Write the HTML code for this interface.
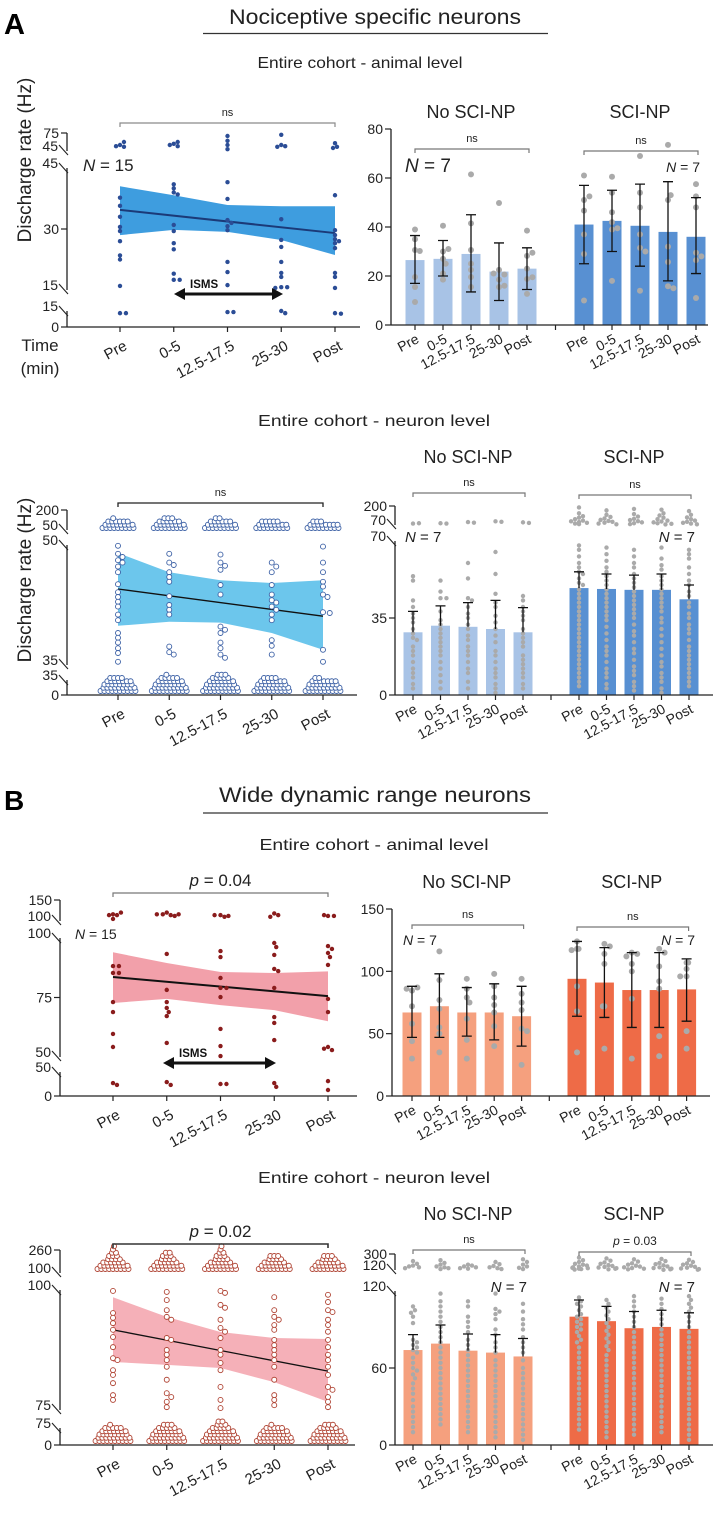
<!DOCTYPE html>
<html><head><meta charset="utf-8"><style>
html,body{margin:0;padding:0;background:#fff;}
svg{display:block;font-family:"Liberation Sans",sans-serif;}
</style></head><body>
<svg id="fig" width="720" height="1513" viewBox="0 0 720 1513" xmlns="http://www.w3.org/2000/svg">
<text x="4" y="34" font-size="29" font-weight="bold">A</text>
<text x="375" y="24" font-size="21" text-anchor="middle" textLength="292" lengthAdjust="spacingAndGlyphs" fill="#222">Nociceptive specific neurons</text>
<line x1="203" y1="33.5" x2="548" y2="33.5" stroke="#333" stroke-width="1.2"/>
<text x="360" y="68" font-size="16" text-anchor="middle" textLength="205" lengthAdjust="spacingAndGlyphs" fill="#222">Entire cohort - animal level</text>
<text x="374" y="426" font-size="16" text-anchor="middle" textLength="232" lengthAdjust="spacingAndGlyphs" fill="#222">Entire cohort - neuron level</text>
<text x="4" y="810" font-size="28" font-weight="bold">B</text>
<text x="375" y="802" font-size="21" text-anchor="middle" textLength="312" lengthAdjust="spacingAndGlyphs" fill="#222">Wide dynamic range neurons</text>
<line x1="203" y1="813" x2="548" y2="813" stroke="#333" stroke-width="1.2"/>
<text x="374" y="850" font-size="16" text-anchor="middle" textLength="229" lengthAdjust="spacingAndGlyphs" fill="#222">Entire cohort - animal level</text>
<text x="374" y="1183" font-size="16" text-anchor="middle" textLength="232" lengthAdjust="spacingAndGlyphs" fill="#222">Entire cohort - neuron level</text>
<text transform="translate(31,160) rotate(-90)" font-size="19" text-anchor="middle" fill="#222">Discharge rate (Hz)</text>
<text transform="translate(31,580) rotate(-90)" font-size="19" text-anchor="middle" fill="#222">Discharge rate (Hz)</text>
<text x="40" y="351" font-size="17" text-anchor="middle" fill="#222">Time</text>
<text x="40" y="374" font-size="17" text-anchor="middle" fill="#222">(min)</text>
<text x="83" y="171" font-size="17" fill="#222"><tspan font-style="italic">N</tspan> = 15</text>
<text x="75" y="939" font-size="14" fill="#222"><tspan font-style="italic">N</tspan> = 15</text>
</svg>
<script>
const svg=document.getElementById('fig');
const NS='http://www.w3.org/2000/svg';
function el(tag,attrs,text){const e=document.createElementNS(NS,tag);for(const k in attrs)e.setAttribute(k,attrs[k]);if(text!=null)e.textContent=text;svg.appendChild(e);return e;}

/* ---------- DATA ---------- */
const cats=['Pre','0-5','12.5-17.5','25-30','Post'];

// A animal-level scatter (per category)
const a1Dots=[
 [55,60,52,53,37.7,35.7,33,29.5,30.5,27,23.5,22.5,16,13,13],
 [57,60,53,55,41,40,39,38.5,31,29.5,26.5,25,19,17.5,17.5],
 [70,62,55,48,41.5,37.4,32.2,31.5,30.7,29.7,21.9,19.4,16.2,14,14],
 [72,55,53,52,32.4,27.3,25.6,21.9,19.2,18.2,15.7,15.7,15.5,15,13],
 [58,52,50,38.3,29.7,28.5,27.5,27,26.5,25.3,19.2,18.2,15.5,13,12.5]];
const a1Line=[34.7,29];
const a1BandHi=[40.5,38.3,35.9,35.6,35.6];
const a1BandLo=[28.5,29.8,29.3,27.3,23.6];

// A animal-level bars
const a2NoMean=[26.5,27,29,21.8,23];
const a2NoLo=[17,20,13.5,10,14.5];
const a2NoHi=[36.5,34.5,45,33.5,31.5];
const a2SciMean=[41,42.5,40.5,38,36];
const a2SciLo=[25,30,24,18,21];
const a2SciHi=[57,55,57.5,58.5,52];
const a2NoDots=[[39,35,30.6,30.2,19.6,15.5,9.4],[40.5,30,31,27,21,18.5,25],[61.5,41.5,30.6,22.5,19.6,15.5,25],[49.8,22.5,20.6,18.5,15.5,16,21],[38.5,28.2,29.5,18.8,19.5,12.7,23]];
const a2SciDots=[[61,51,52.5,46.7,37,29,10],[60.5,54,46,39,39.5,18,42],[69,54,48,37,31.5,30,14],[73.5,51,53,32,25.7,15.8,15],[57.5,52.5,29.5,26.5,11,48,28]];

// A neuron-level scatter
const a3Mid=[
 [49.9,48.9,48.5,48.1,47.8,47.3,46.6,45.1,44.1,43.5,42.9,42.3,41.3,40.6,39,38.4,37.8,37.1,36.5,35.4],
 [48.9,47.8,47.5,46.6,46,45.4,43.6,42.5,41.9,41.3,37.3,36.6,36.3],
 [48.8,47.8,47.4,46.9,45,43.8,39.8,39.4,39,37.8,37.1,36.3,35.9],
 [47.8,47.3,46.6,45,43.8,43.1,42.8,42.3,41.9,41.3,40.6,38.1,37.4,36.3],
 [49.8,47.8,46.6,45.4,44.8,43.8,43.5,41.6,41.5,36.9,35.4]];
const a3TopCount=[24,26,25,22,20];
const a3BottomCount=[38,40,42,38,36];
const a3Line=[44.5,41.1];
const a3BandHi=[49,46.6,45.6,45.25,45.6];
const a3BandLo=[39.9,40.4,40.3,39,36.9];

// A neuron-level bars
const a4NoMean=[28.5,31.5,31,30,28.5];
const a4NoHi=[38,40.5,42,43,39.7];
const a4SciMean=[48.6,48.2,47.8,47.8,43.5];
const a4SciHi=[56,55,54.5,55,50];
const a4NoDots=[
 [80,82,52,54,43,40,37,35,30,28,26,22,20,18,15,12,10,8,5,3,25,33],
 [82,80,52,47,44,44,38,34,32,30,28,26,24,22,20,18,15,12,9,6,3],
 [90,86,60,53,44,43,40,37,35,32,30,27,25,22,20,18,15,12,10,6,3],
 [95,92,65,55,46,42,40,36,33,30,27,24,20,18,15,12,10,8,5,3,1],
 [88,84,45,43,40,38,36,34,30,28,26,24,22,18,16,14,12,10,8,5,3]];
const a4SciDots=[
 [190,150,130,120,110,100,95,90,85,80,76,68,66,63,60,58,56,55,53,51,50,48,46,44,42,40,38,36,34,32,30,28,26,24,22,20,18,16,14,12,10,8,6,4],
 [170,140,125,115,105,98,92,86,80,75,67,64,61,58,56,54,52,50,48,46,44,42,40,38,36,34,31,28,25,22,20,18,15,12,10,8,5,3],
 [180,145,128,112,104,96,88,82,76,66,63,60,58,55,53,51,49,47,45,43,41,39,37,35,32,29,27,24,21,19,16,13,11,9,6,4,2],
 [175,150,135,120,110,100,94,88,82,78,74,67,62,59,57,54,52,50,48,46,44,42,40,38,35,33,30,27,24,21,18,15,13,10,8,6,3,1],
 [165,140,122,110,100,92,85,80,75,66,64,62,58,55,52,50,47,45,42,40,37,35,32,30,28,25,22,20,18,16,14,12,10,8,6,4]];

// B animal-level scatter
const b1Dots=[
 [116,114,114,105,120,88.2,88.2,85.3,85.3,73.1,68.9,59.7,54.2,27,23],
 [120,114,116,112,116,116,93.3,78.2,73.1,70.6,68.9,67.2,55.9,29,23],
 [114,110,114,112,94.5,92,83.2,79,79,75.2,61.8,54.6,50.4,25,25],
 [118,114,110,97.9,96.2,92.9,87,86.1,79,66.8,64.3,57.1,27,19],
 [112,112,114,96.6,95.4,93.7,92,88.7,74.4,68.9,54.2,52.9,53.5,31,12.5]];
const b1Line=[83.6,75.6];
const b1BandHi=[94,89.5,85.7,85.3,86];
const b1BandLo=[72.7,74.4,71.8,69.7,65];

// B animal-level bars
const b2NoMean=[67,72,67,67,64];
const b2NoLo=[47,47,48,45,40];
const b2NoHi=[88,98,87,90,88];
const b2SciMean=[94,91,85,85,85.5];
const b2SciLo=[64,63,55,55,60];
const b2SciHi=[124,119,115,115,110];
const b2NoDots=[[84.5,87,86,72,58,44,30],[116,93,77,70,55,35,50],[94,86,79,75,62,30,45],[98,88,79,73,67,56,40],[94,82,75,69,54,52,25]];
const b2SciDots=[[118,118,117,88,68,35,124],[122,114,106,72,38,120,72],[115,114,106,100,78,30,112],[118,115,104,92,86,48,32],[107,107,102,96,96,52,38]];

// B neuron-level scatter
const b3Mid=[
 [99.8,95.2,94.2,93.1,91.7,90.2,88.1,85.8,85.4,83.3,82.3,80.6,78.1,77.1],
 [99.6,97.9,95.8,94.4,93.8,90,89.6,87.5,86.5,85.4,84,81.3,78.5,77.7,76.7,75.6],
 [99.8,99.4,96.9,96.3,93.8,92.1,91.3,90,87.5,86.5,84.8,83.3,79.8,77.1,75.4],
 [98.5,95.8,94.4,93.8,92.7,91.7,89.6,88.5,87.5,86.5,85.4,84,81.3,78.1,77.1,76],
 [99,97.5,95.8,95.4,93.8,92.7,91.3,89.6,88.1,86.5,85.4,84,82.3,79.8,79.2,77.7,76.7,75.6]];
const b3TopCount=[34,32,34,30,30];
const b3BottomCount=[40,42,44,40,42];
const b3Line=[91.7,83.1];
const b3BandHi=[98.5,94.4,91.25,90,89.8];
const b3BandLo=[85,84.4,83.75,80.8,76.7];

// B neuron-level bars
const b4NoMean=[74,79,73.5,72,69];
const b4NoHi=[86,93.5,86.5,86,83];
const b4SciMean=[100,96.5,91,92,90.5];
const b4SciHi=[113,108,104,105,103];
const b4NoDots=[
 [220,190,170,160,150,140,108,105,103,100,95,82,80,78,76,74,72,68,64,60,58,55,52,48,44,40,35,30,26,22,18,14,10],
 [230,200,180,160,150,140,130,118,112,108,104,100,96,92,88,84,80,76,72,68,64,60,56,52,48,44,40,36,32,28,24,20,16],
 [180,170,160,150,140,135,112,108,100,96,92,88,82,78,74,70,66,62,58,54,50,46,42,38,34,30,26,22,18,14,10],
 [210,185,165,150,140,130,118,106,104,102,98,90,86,80,76,72,66,62,58,54,50,46,42,38,34,30,26,22,18,14,10,6],
 [240,210,180,160,145,130,110,104,98,94,90,84,80,76,72,66,60,56,52,48,44,40,36,32,28,24,20,16,12,8,4]];
const b4SciDots=[
 [260,230,210,190,180,170,160,150,145,140,135,130,125,115,112,110,108,105,102,100,98,96,94,92,90,88,85,82,80,76,72,68,64,60,56,52,48,44,40,36,32,28,24,20,16,12],
 [250,225,205,190,175,165,155,148,140,134,128,113,110,107,104,101,98,95,92,89,86,83,80,77,74,70,66,62,58,54,50,46,42,38,34,30,26,22,18,14,10,6],
 [240,215,195,180,168,158,150,142,135,128,116,112,108,104,100,96,92,88,84,80,76,72,68,64,60,56,52,48,44,40,36,32,28,24,20,16,12,8],
 [245,220,200,185,172,160,150,142,135,128,122,114,110,106,102,98,94,90,86,82,78,74,70,66,62,58,54,50,46,42,38,34,30,26,22,18,14,10],
 [235,210,195,180,168,156,146,138,130,124,116,113,110,107,104,100,96,92,88,84,80,76,72,68,64,60,56,52,48,44,40,36,32,28,24,20,16,12,8,4]];

/* ---------- HELPERS ---------- */
function makeScale(segs){
  return function(v,si){
    if(si!=null){const s=segs[si];return s[2]+(v-s[0])/(s[1]-s[0])*(s[3]-s[2]);}
    for(const s of segs){if(v>=s[0]&&v<=s[1])return s[2]+(v-s[0])/(s[1]-s[0])*(s[3]-s[2]);}
    const last=segs[segs.length-1];
    if(v>last[1])return last[3];
    return segs[0][2];
  };
}
function swarmOffsets(ys,r,maxOff){
  const placed=[];const offs=[];
  ys.forEach((y,i)=>{
    let chosen=null;
    for(let k=0;k<30&&chosen===null;k++){
      for(const sg of (k===0?[1]:[1,-1])){
        const off=sg*k*r*0.9;
        if(Math.abs(off)>maxOff)continue;
        let ok=true;
        for(const p of placed){const dx=p[0]-off,dy=p[1]-y;if(dx*dx+dy*dy<(2*r*0.92)*(2*r*0.92)){ok=false;break;}}
        if(ok){chosen=off;break;}
      }
    }
    if(chosen===null)chosen=((i%2)?1:-1)*maxOff*((i%5)/5);
    placed.push([chosen,y]);offs.push(chosen);
  });
  return offs;
}
function drawYAxis(p,prefix){
  const sc=p.scale;
  p.segs.forEach((s,i)=>{
    const ln=el('line',{x1:p.ax,y1:s[2],x2:p.ax,y2:s[3],stroke:'#222','stroke-width':1.3});
    
    
    if(i>0){
      const b1=el('line',{x1:p.ax-8,y1:s[2]-6,x2:p.ax+1,y2:s[2]+4,stroke:'#222','stroke-width':1.1});
      
      
    }
    if(i<p.segs.length-1){
      const b2=el('line',{x1:p.ax-8,y1:s[3]-5,x2:p.ax+1,y2:s[3]+5,stroke:'#222','stroke-width':1.1});
      
      
    }
  });
  p.ticks.forEach(t=>{
    const y=sc(t[0],t[1]);
    const isBreak=(t[1]>0&&t[0]===p.segs[t[1]][0])||(t[1]<p.segs.length-1&&t[0]===p.segs[t[1]][1]);
    if(!isBreak){
      const tk=el('line',{x1:p.ax-6,y1:y,x2:p.ax,y2:y,stroke:'#222','stroke-width':1.2});
      
      
    }
    const lb=el('text',{x:p.ax-(isBreak?9:8),y:y+(isBreak?0:5),'font-size':p.tickFont||14,'text-anchor':'end',fill:'#222'},String(t[0]));
    
    
  });
}
function drawXLabels(xs,axisY,fs,dx,dy,prefix){
  xs.forEach((x,i)=>{
    const tk=el('line',{x1:x,y1:axisY,x2:x,y2:axisY+5,stroke:'#222','stroke-width':1.2});
    
    
    const lb=el('text',{transform:`translate(${x+dx},${axisY+dy}) rotate(-28)`,'font-size':fs,'text-anchor':'end',fill:'#222'},cats[i]);
    
    
  });
}
function bracket(x1,x2,y,color,w,label,labelSize,italicP,prefix){
  const g=el('path',{d:`M${x1},${y+4}V${y}H${x2}V${y+4}`,fill:'none',stroke:color,'stroke-width':w});
  
  
  const t=el('text',{x:(x1+x2)/2,y:y-7,'font-size':labelSize,'text-anchor':'middle',fill:'#222'});
  
  
  if(italicP){const ts=document.createElementNS(NS,'tspan');ts.setAttribute('font-style','italic');ts.textContent='p';t.appendChild(ts);t.appendChild(document.createTextNode(' = '+label));}
  else t.textContent=label;
}
function isms(x1,x2,y,prefix){
  const l=el('line',{x1:x1+8,y1:y,x2:x2-8,y2:y,stroke:'#111','stroke-width':3});
  
  
  const h1=el('polygon',{points:`${x1},${y} ${x1+11},${y-6} ${x1+11},${y+6}`,fill:'#111'});
  
  
  const h2=el('polygon',{points:`${x2},${y} ${x2-11},${y-6} ${x2-11},${y+6}`,fill:'#111'});
  
  
  const t=el('text',{x:x1+16,y:y-6,'font-size':11.5,'font-weight':'bold',fill:'#111'},'ISMS');
  
  
}

/* ---------- LEFT (regression) PANELS ---------- */
function leftPanel(p){
  const sc=makeScale(p.segs);p.scale=sc;
  const xs=cats.map((c,i)=>p.x0+i*p.step);
  let d='M'+xs.map((x,i)=>x+','+sc(p.hi[i],1)).join(' L');
  for(let i=4;i>=0;i--)d+=' L'+xs[i]+','+sc(p.lo[i],1);
  const band=el('path',{d:d+'Z',fill:p.bandColor,stroke:'none'});
  
  
  const rl=el('line',{x1:xs[0],y1:sc(p.line[0],1),x2:xs[4],y2:sc(p.line[1],1),stroke:p.lineColor,'stroke-width':p.lineW});
  
  
  if(p.dots){
    p.dots.forEach((arr,ci)=>{
      const ys=arr.map(v=>sc(v));
      const offs=swarmOffsets(ys,p.r,14);
      ys.forEach((y,j)=>{
        const c=el('circle',{cx:xs[ci]+offs[j],cy:y,r:p.r,fill:p.dotFill,stroke:p.dotStroke,'stroke-width':p.dotSW});
        
        
      });
    });
  }
  if(p.mid){
    p.mid.forEach((arr,ci)=>{
      const ys=arr.map(v=>sc(v,1));
      const offs=swarmOffsets(ys,p.r,8);
      ys.forEach((y,j)=>{
        const c=el('circle',{cx:xs[ci]+offs[j],cy:y,r:p.r,fill:p.dotFill,stroke:p.dotStroke,'stroke-width':p.dotSW});
        
        
      });
    });
    const pile=(count,cx,baseY,caps,name)=>{
      let row=0,idx=0;
      for(let n=0;n<count;n++){
        const cap=caps[Math.min(row,caps.length-1)];
        const x=cx+(idx-(cap-1)/2)*p.r*1.55+((row%2)?p.r*0.4:0);
        const y=baseY-row*p.r*1.3;
        const c=el('circle',{cx:x,cy:y,r:p.r,fill:p.dotFill,stroke:p.dotStroke,'stroke-width':p.dotSW});
        
        
        idx++;if(idx>=cap){idx=0;row++;}
      }
    };
    xs.forEach((x,ci)=>{
      pile(p.topCount[ci],x,p.topBase,[9,8,6,4,3,2,1,1],p.prefix+'-high-rate-neuron');
      pile(p.botCount[ci],x,p.botBase,[10,9,8,7,5,3,2,1],p.prefix+'-low-rate-neuron');
    });
  }
  drawYAxis(p,p.prefix);
  const xa=el('line',{x1:p.ax,y1:p.axisY,x2:p.xEnd,y2:p.axisY,stroke:'#222','stroke-width':1.3});
  
  
  drawXLabels(xs,p.axisY,15,8,22,p.prefix);
  bracket(xs[0],xs[4],p.brY,p.brColor,p.brW,p.brLabel,p.brSize,p.brItalic,p.prefix);
}

leftPanel({prefix:'a-animal',ax:67,axisY:327,xEnd:360,x0:120,step:53.75,
  segs:[[0,15,327,311],[15,45,290,168],[45,75,151,133]],
  ticks:[[0,0],[15,0],[15,1],[30,1],[45,1],[45,2],[75,2]],
  hi:a1BandHi,lo:a1BandLo,line:a1Line,dots:a1Dots,r:2.2,dotFill:'#2b4d96',dotStroke:'none',dotSW:0,
  bandColor:'#3e9ddf',lineColor:'#1b3a78',lineW:2,brY:123,brColor:'#8a8a8a',brW:1.2,brLabel:'ns',brSize:11});
isms(174,283,294,'a-animal');

leftPanel({prefix:'a-neuron',ax:67,axisY:695,xEnd:357,x0:118,step:51.25,
  segs:[[0,35,695,680],[35,50,665,545],[50,200,530,510]],
  ticks:[[0,0],[35,0],[35,1],[50,1],[50,2],[200,2]],
  hi:a3BandHi,lo:a3BandLo,line:a3Line,mid:a3Mid,topCount:a3TopCount,botCount:a3BottomCount,topBase:528,botBase:691,
  r:2.5,dotFill:'#fff',dotStroke:'#3e62a6',dotSW:0.9,
  bandColor:'#6cc6ec',lineColor:'#111',lineW:1.3,brY:503,brColor:'#222',brW:1.3,brLabel:'ns',brSize:11});

leftPanel({prefix:'b-animal',ax:60,axisY:1096,xEnd:357,x0:113,step:53.75,
  segs:[[0,50,1096,1072],[50,100,1057,938],[100,150,921,900]],
  ticks:[[0,0],[50,0],[50,1],[75,1],[100,1],[100,2],[150,2]],
  hi:b1BandHi,lo:b1BandLo,line:b1Line,dots:b1Dots,r:2.2,dotFill:'#8a1c1c',dotStroke:'none',dotSW:0,
  bandColor:'#f2a0aa',lineColor:'#111',lineW:2,brY:893,brColor:'#777',brW:1.2,brLabel:'0.04',brSize:17,brItalic:true});
isms(163,276,1063,'b-animal');

leftPanel({prefix:'b-neuron',ax:60,axisY:1445,xEnd:355,x0:113,step:53.75,
  segs:[[0,75,1445,1428],[75,100,1410,1290],[100,260,1273,1250]],
  ticks:[[0,0],[75,0],[75,1],[100,1],[100,2],[260,2]],
  hi:b3BandHi,lo:b3BandLo,line:b3Line,mid:b3Mid,topCount:b3TopCount,botCount:b3BottomCount,topBase:1269,botBase:1441,
  r:2.5,dotFill:'#fff',dotStroke:'#b04434',dotSW:0.9,
  bandColor:'#f5b0b8',lineColor:'#111',lineW:1.3,brY:1244,brColor:'#333',brW:1.6,brLabel:'0.02',brSize:17,brItalic:true});

/* ---------- RIGHT (bar) PANELS ---------- */
function barPanel(p){
  const sc=makeScale(p.segs);p.scale=sc;
  const xl=cats.map((c,i)=>p.xl0+i*p.step);
  const xr=cats.map((c,i)=>p.xr0+i*p.step);
  const groups=[{xs:xl,mean:p.noMean,lo:p.noLo,hi:p.noHi,dots:p.noDots,col:p.noColor,name:'no-sci-np'},
                {xs:xr,mean:p.sciMean,lo:p.sciLo,hi:p.sciHi,dots:p.sciDots,col:p.sciColor,name:'sci-np'}];
  groups.forEach(g=>{
    g.xs.forEach((x,i)=>{
      const y=sc(g.mean[i]);
      const b=el('rect',{x:x-p.bw/2,y:y,width:p.bw,height:p.axisY-y,fill:g.col});
      
      
    });
    g.xs.forEach((x,i)=>{
      const vals=g.dots[i];const ys=vals.map(v=>sc(v));
      const offs=swarmOffsets(ys,p.r,p.maxOff);
      ys.forEach((y,j)=>{
        const c=el('circle',{cx:x+offs[j],cy:y,r:p.r,fill:'#aaaaaa'});
        
        
      });
    });
    g.xs.forEach((x,i)=>{
      const yh=sc(g.hi[i]);const ym=sc(g.mean[i]);
      const yl=g.lo?sc(g.lo[i]):ym;
      const e=el('path',{d:`M${x},${yl}V${yh}M${x-5},${yh}H${x+5}`+(g.lo?`M${x-5},${yl}H${x+5}`:''),stroke:'#111','stroke-width':1.3,fill:'none'});
      
      
    });
  });
  drawYAxis(p,p.prefix);
  const xa=el('line',{x1:p.ax,y1:p.axisY,x2:p.xEnd,y2:p.axisY,stroke:'#222','stroke-width':1.3});
  
  
  const gt=el('line',{x1:(xl[4]+xr[0])/2,y1:p.axisY,x2:(xl[4]+xr[0])/2,y2:p.axisY+5,stroke:'#222','stroke-width':1.2});
  
  
  drawXLabels(xl,p.axisY,14,5,17,p.prefix+'-no-sci-np');
  drawXLabels(xr,p.axisY,14,5,17,p.prefix+'-sci-np');
  const h1=el('text',{x:(xl[0]+xl[4])/2,y:p.headY,'font-size':18,'text-anchor':'middle',fill:'#222'},'No SCI-NP');
  
  
  const h2=el('text',{x:(xr[0]+xr[4])/2,y:p.headY,'font-size':18,'text-anchor':'middle',fill:'#222'},'SCI-NP');
  
  
  bracket(xl[0],xl[4]+2,p.brY,'#777',1.2,'ns',11,false,p.prefix+'-no-sci-np');
  bracket(xr[0],xr[4]+2,p.brY+2,'#777',1.2,p.sciLabel,p.sciItalic?12:11,p.sciItalic,p.prefix+'-sci-np');
  const n1=el('text',{x:p.nL[0],y:p.nL[1],'font-size':p.nL[2],'text-anchor':p.nL[3],fill:'#222'});
  
  
  n1.innerHTML='<tspan font-style="italic">N</tspan> = 7';
  const n2=el('text',{x:p.nR[0],y:p.nR[1],'font-size':p.nR[2],'text-anchor':'end',fill:'#222'});
  
  
  n2.innerHTML='<tspan font-style="italic">N</tspan> = 7';
}

barPanel({prefix:'a-animal-bars',ax:391,axisY:325,xEnd:708,xl0:415,xr0:584,step:28,bw:19,r:3,maxOff:8,
  segs:[[0,80,325,129]],ticks:[[0,0],[20,0],[40,0],[60,0],[80,0]],
  noMean:a2NoMean,noLo:a2NoLo,noHi:a2NoHi,noDots:a2NoDots,sciMean:a2SciMean,sciLo:a2SciLo,sciHi:a2SciHi,sciDots:a2SciDots,
  noColor:'#a8c3e6',sciColor:'#5890d2',headY:118,brY:149,sciLabel:'ns',
  nL:[405,172,19,'start'],nR:[700,172,14]});

barPanel({prefix:'a-neuron-bars',ax:395,axisY:695,xEnd:713,xl0:413,xr0:579,step:27.5,bw:19,r:2.2,maxOff:11,
  segs:[[0,70,695,541],[70,200,525,506]],ticks:[[0,0],[35,0],[70,0],[70,1],[200,1]],
  noMean:a4NoMean,noHi:a4NoHi,noDots:a4NoDots,sciMean:a4SciMean,sciHi:a4SciHi,sciDots:a4SciDots,
  noColor:'#a8c3e6',sciColor:'#5890d2',headY:463,brY:493,sciLabel:'ns',
  nL:[405,542,15,'start'],nR:[695,542,15]});

barPanel({prefix:'b-animal-bars',ax:392,axisY:1096,xEnd:710,xl0:412,xr0:577,step:27.4,bw:19,r:3,maxOff:8,
  segs:[[0,150,1096,909]],ticks:[[0,0],[50,0],[100,0],[150,0]],
  noMean:b2NoMean,noLo:b2NoLo,noHi:b2NoHi,noDots:b2NoDots,sciMean:b2SciMean,sciLo:b2SciLo,sciHi:b2SciHi,sciDots:b2SciDots,
  noColor:'#f5a07e',sciColor:'#ee6b47',headY:888,brY:925,sciLabel:'ns',
  nL:[403,945,14,'start'],nR:[695,945,14]});

barPanel({prefix:'b-neuron-bars',ax:395,axisY:1445,xEnd:713,xl0:413,xr0:579,step:27.5,bw:19,r:2.2,maxOff:11,
  segs:[[0,120,1445,1291],[120,300,1270,1254]],ticks:[[0,0],[60,0],[120,0],[120,1],[300,1]],
  noMean:b4NoMean,noHi:b4NoHi,noDots:b4NoDots,sciMean:b4SciMean,sciHi:b4SciHi,sciDots:b4SciDots,
  noColor:'#f5a07e',sciColor:'#ee6b47',headY:1220,brY:1250,sciLabel:'0.03',sciItalic:true,
  nL:[527,1292,15,'end'],nR:[695,1292,15]});
</script>
</body></html>
